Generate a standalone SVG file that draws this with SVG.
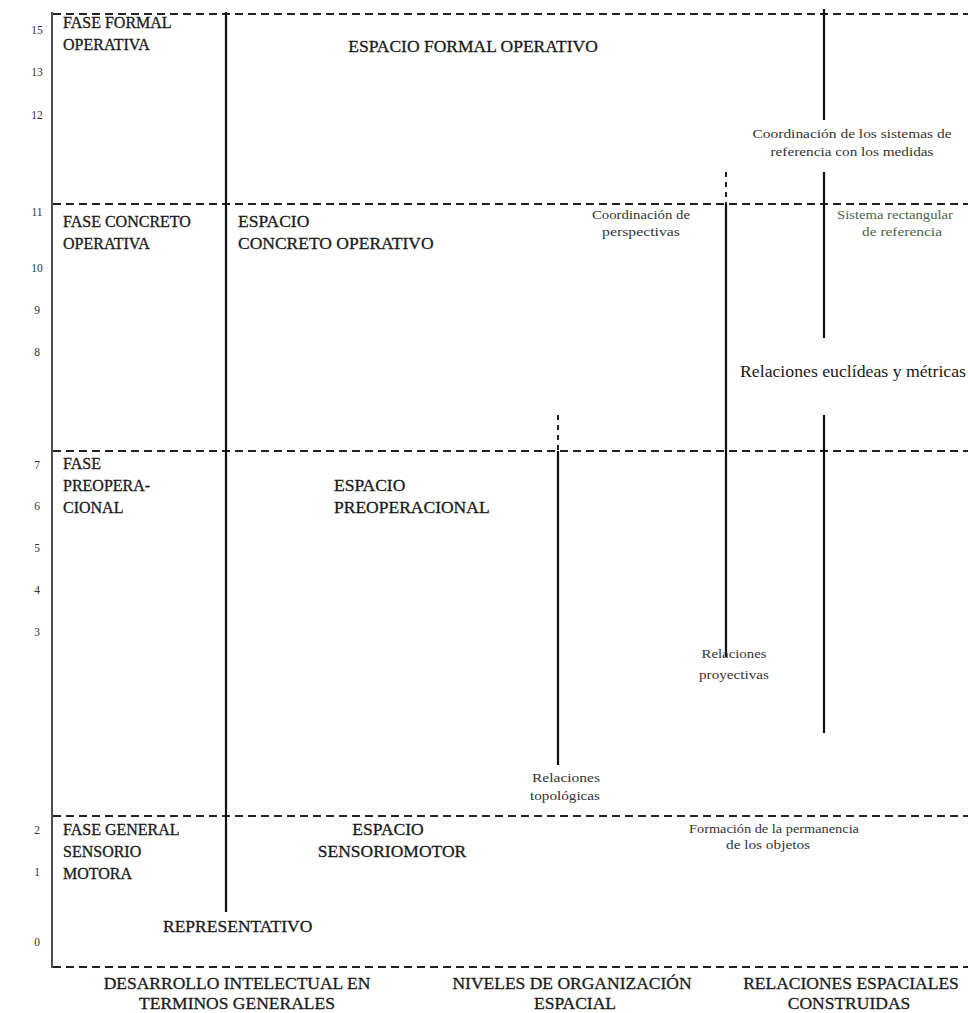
<svg xmlns="http://www.w3.org/2000/svg" width="968" height="1013" viewBox="0 0 968 1013">
<style>
text{font-family:"Liberation Serif","Times New Roman",serif;fill:#1a1a1a}
.n{font-size:11.5px;text-anchor:middle;fill:#333}
.f{font-size:16px;stroke:#1a1a1a;stroke-width:0.3}
.l{font-size:17.5px;stroke:#1a1a1a;stroke-width:0.3}
.c{font-size:17.5px;text-anchor:middle;stroke:#1a1a1a;stroke-width:0.3}
.s{font-size:13px;text-anchor:middle;fill:#333}
.g{font-size:13px;text-anchor:middle;fill:#4a644a}
.dash{stroke:#222;stroke-width:2;stroke-dasharray:8 5;fill:none}
.sol{stroke:#111;stroke-width:2.2;fill:none}
.dot{stroke:#222;stroke-width:2;stroke-dasharray:5 5;fill:none}
</style>
<rect width="968" height="1013" fill="#fff"/>
<g id="connectors">
<line class="dash" x1="53" y1="14" x2="968" y2="14"/>
<line class="dash" x1="53" y1="204" x2="968" y2="204"/>
<line class="dash" x1="53" y1="451" x2="968" y2="451"/>
<line class="dash" x1="53" y1="816" x2="968" y2="816"/>
<line class="dash" x1="53" y1="967" x2="968" y2="967"/>
<line x1="52" y1="12" x2="52" y2="968" stroke="#222" stroke-width="1.6"/>
<line class="sol" x1="226" y1="12" x2="226" y2="912"/>
<line class="sol" x1="824" y1="9" x2="824" y2="120"/>
<line class="sol" x1="824" y1="172" x2="824" y2="338"/>
<line class="sol" x1="824" y1="415" x2="824" y2="733"/>
<line class="dot" x1="726" y1="172" x2="726" y2="204"/>
<line class="sol" x1="726" y1="204" x2="726" y2="657"/>
<line class="dot" x1="558" y1="415" x2="558" y2="451"/>
<line class="sol" x1="558" y1="451" x2="558" y2="765"/>
</g>
<g id="axis">
<text class="n" x="37" y="34">15</text>
<text class="n" x="37" y="76">13</text>
<text class="n" x="37" y="119">12</text>
<text class="n" x="37" y="216">11</text>
<text class="n" x="37" y="272">10</text>
<text class="n" x="37" y="314">9</text>
<text class="n" x="37" y="356">8</text>
<text class="n" x="37" y="469">7</text>
<text class="n" x="37" y="510">6</text>
<text class="n" x="37" y="552">5</text>
<text class="n" x="37" y="594">4</text>
<text class="n" x="37" y="636">3</text>
<text class="n" x="37" y="834">2</text>
<text class="n" x="37" y="876">1</text>
<text class="n" x="37" y="946">0</text>
</g>
<g id="fase-formal"><text class="f" x="63" y="28">FASE FORMAL</text><text class="f" x="63" y="50">OPERATIVA</text></g>
<g id="espacio-formal"><text class="c" x="473" y="52">ESPACIO FORMAL OPERATIVO</text></g>
<g id="coord-sistemas"><text class="s" x="852" y="138" textLength="199" lengthAdjust="spacingAndGlyphs">Coordinación de los sistemas de</text><text class="s" x="852" y="156" textLength="163" lengthAdjust="spacingAndGlyphs">referencia con los medidas</text></g>
<g id="fase-concreto"><text class="f" x="63" y="227">FASE CONCRETO</text><text class="f" x="63" y="249">OPERATIVA</text></g>
<g id="espacio-concreto"><text class="l" x="238" y="227">ESPACIO</text><text class="l" x="238" y="249">CONCRETO OPERATIVO</text></g>
<g id="coord-perspectivas"><text class="s" x="641" y="219" textLength="98" lengthAdjust="spacingAndGlyphs">Coordinación de</text><text class="s" x="641" y="236" textLength="78" lengthAdjust="spacingAndGlyphs">perspectivas</text></g>
<g id="sistema-rect"><text class="g" x="895" y="219" textLength="116" lengthAdjust="spacingAndGlyphs">Sistema rectangular</text><text class="g" x="902" y="236" textLength="80" lengthAdjust="spacingAndGlyphs">de referencia</text></g>
<g id="euclideas"><text x="853" y="377" font-size="17.5" text-anchor="middle" textLength="226" lengthAdjust="spacingAndGlyphs">Relaciones euclídeas y métricas</text></g>
<g id="fase-preop"><text class="f" x="63" y="469">FASE</text><text class="f" x="63" y="491">PREOPERA-</text><text class="f" x="63" y="513">CIONAL</text></g>
<g id="espacio-preop"><text class="l" x="334" y="491">ESPACIO</text><text class="l" x="334" y="513">PREOPERACIONAL</text></g>
<g id="proyectivas"><text class="s" x="734" y="658" textLength="65" lengthAdjust="spacingAndGlyphs">Relaciones</text><text class="s" x="734" y="679" textLength="70" lengthAdjust="spacingAndGlyphs">proyectivas</text></g>
<g id="topologicas"><text class="s" x="566" y="782" textLength="68" lengthAdjust="spacingAndGlyphs">Relaciones</text><text class="s" x="565" y="800" textLength="70" lengthAdjust="spacingAndGlyphs">topológicas</text></g>
<g id="fase-sensorio"><text class="f" x="63" y="835">FASE GENERAL</text><text class="f" x="63" y="857">SENSORIO</text><text class="f" x="63" y="879">MOTORA</text></g>
<g id="espacio-sensorio"><text class="c" x="388" y="835">ESPACIO</text><text class="c" x="392" y="857">SENSORIOMOTOR</text></g>
<g id="permanencia"><text class="s" x="774" y="833" textLength="170" lengthAdjust="spacingAndGlyphs">Formación de la permanencia</text><text class="s" x="768" y="849" textLength="84" lengthAdjust="spacingAndGlyphs">de los objetos</text></g>
<g id="representativo"><text class="l" x="163" y="932">REPRESENTATIVO</text></g>
<g id="col1"><text class="c" x="237" y="989">DESARROLLO INTELECTUAL EN</text><text class="c" x="237" y="1009">TERMINOS GENERALES</text></g>
<g id="col2"><text class="c" x="572" y="989">NIVELES DE ORGANIZACIÓN</text><text class="c" x="575" y="1009">ESPACIAL</text></g>
<g id="col3"><text class="c" x="851" y="989">RELACIONES ESPACIALES</text><text class="c" x="849" y="1009">CONSTRUIDAS</text></g>
</svg>
